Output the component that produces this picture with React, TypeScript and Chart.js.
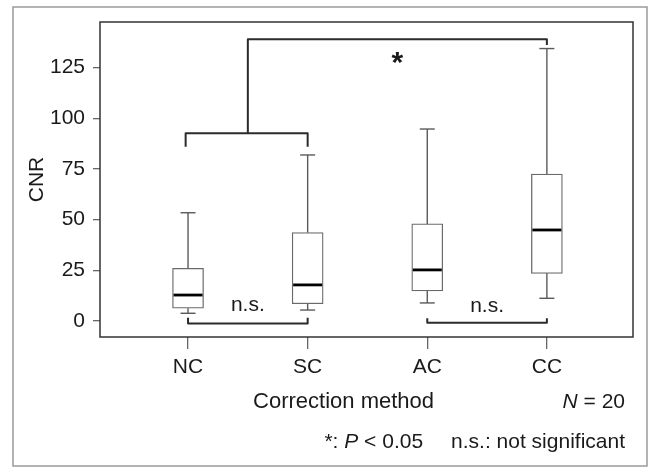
import React, { useEffect, useRef } from "react";
import { Chart, registerables } from "chart.js";
Chart.register(...registerables);

const FONT = "'Liberation Sans', Arial, Helvetica, sans-serif";

// ---- data ----
const categories = ["NC", "SC", "AC", "CC"];
const whiskerLow = [3.8, 5.4, 8.9, 11.2];
const q1 = [6.3, 8.5, 14.8, 23.5];
const medians = [12.8, 17.8, 25.2, 44.9];
const q3 = [26.0, 43.6, 47.9, 72.5];
const whiskerHigh = [53.4, 81.9, 94.7, 134.4];
const yTicks = [0, 25, 50, 75, 100, 125];
const xTitle = "Correction method";
const yTitle = "CNR";

// significance brackets, as polylines in (category, CNR) value space
const brackets: [number, number][][] = [
  [[1, 1.6], [1, -1.2], [2, -1.2], [2, 1.6]],
  [[3, 1.4], [3, -0.9], [4, -0.9], [4, 1.4]],
  [[0.98, 86], [0.98, 92.6], [2, 92.6], [2, 86]],
  [[1.5, 92.6], [1.5, 139], [4, 139], [4, 136.2]],
];
const bracketLabelX = [1.5, 3.5, 2.75];
const bracketLabelY = [7.8, 7.2, 130];
const bracketLabelText = ["n.s.", "n.s.", "*"];

const TEXT = "#1a1a1a";

const extras = {
  id: "boxExtras",
  afterDatasetsDraw(chart: any) {
    const { ctx, scales } = chart;
    const xs = scales.x;
    const ys = scales.y;
    const boxHalf = 15.5;
    const capHalf = 7.5;
    ctx.save();
    // whiskers + caps
    ctx.strokeStyle = "#5a5a5a";
    ctx.lineWidth = 1.4;
    categories.forEach((_, i) => {
      const px = xs.getPixelForValue(i + 1);
      const segs: [number, number][] = [
        [whiskerLow[i], q1[i]],
        [q3[i], whiskerHigh[i]],
      ];
      segs.forEach(([a, b]) => {
        ctx.beginPath();
        ctx.moveTo(px, ys.getPixelForValue(a));
        ctx.lineTo(px, ys.getPixelForValue(b));
        ctx.stroke();
      });
      [whiskerLow[i], whiskerHigh[i]].forEach((v) => {
        const py = ys.getPixelForValue(v);
        ctx.beginPath();
        ctx.moveTo(px - capHalf, py);
        ctx.lineTo(px + capHalf, py);
        ctx.stroke();
      });
    });
    // medians
    ctx.strokeStyle = "#000";
    ctx.lineWidth = 2.8;
    categories.forEach((_, i) => {
      const px = xs.getPixelForValue(i + 1);
      const py = ys.getPixelForValue(medians[i]);
      ctx.beginPath();
      ctx.moveTo(px - boxHalf + 1, py);
      ctx.lineTo(px + boxHalf - 1, py);
      ctx.stroke();
    });
    // brackets
    ctx.strokeStyle = "#2b2b2b";
    ctx.lineWidth = 2;
    ctx.lineJoin = "round";
    brackets.forEach((pts) => {
      ctx.beginPath();
      pts.forEach(([vx, vy], k) => {
        const X = xs.getPixelForValue(vx);
        const Y = ys.getPixelForValue(vy);
        if (k === 0) ctx.moveTo(X, Y);
        else ctx.lineTo(X, Y);
      });
      ctx.stroke();
    });
    // bracket labels
    ctx.fillStyle = TEXT;
    ctx.textAlign = "center";
    ctx.textBaseline = "middle";
    bracketLabelText.forEach((t, i) => {
      ctx.font = t === "*" ? `bold 30px ${FONT}` : `21px ${FONT}`;
      const X = xs.getPixelForValue(bracketLabelX[i]);
      const Y = ys.getPixelForValue(bracketLabelY[i]) + (t === "*" ? 6 : 0);
      ctx.fillText(t, X, Y);
    });
    ctx.restore();
  },
  afterDraw(chart: any) {
    const { ctx, chartArea, scales } = chart;
    ctx.save();
    // plot frame
    ctx.strokeStyle = "#333";
    ctx.lineWidth = 1.5;
    ctx.strokeRect(chartArea.left, chartArea.top, chartArea.right - chartArea.left, chartArea.bottom - chartArea.top);
    // outer figure border
    ctx.strokeStyle = "#9a9a9a";
    ctx.lineWidth = 1.5;
    ctx.strokeRect(13, 7, chart.width - 16, chart.height - 9);
    // annotations
    ctx.fillStyle = TEXT;
    ctx.textBaseline = "middle";
    const y1 = chartArea.bottom + 65;
    const y2 = chartArea.bottom + 105;
    // x axis title (placed left of centre, as in the figure)
    ctx.textAlign = "center";
    ctx.font = `22px ${FONT}`;
    ctx.fillText(xTitle, scales.x.getPixelForValue(2.3), y1);
    ctx.textAlign = "left";
    const right = chartArea.right - 8;
    const norm = `21px ${FONT}`;
    const ital = `italic 21px ${FONT}`;
    const drawRuns = (runs: [string, string][], endX: number, y: number) => {
      let total = 0;
      runs.forEach(([t, f]) => {
        ctx.font = f;
        total += ctx.measureText(t).width;
      });
      let x = endX - total;
      runs.forEach(([t, f]) => {
        ctx.font = f;
        ctx.fillText(t, x, y);
        x += ctx.measureText(t).width;
      });
      return endX - total;
    };
    drawRuns([["N", ital], [" = 20", norm]], right, y1);
    const start = drawRuns([["n.s.: not significant", norm]], right, y2);
    drawRuns([["*: ", norm], ["P", ital], [" < 0.05", norm]], start - 28, y2);
    ctx.restore();
  },
};

export default function App() {
  const ref = useRef<HTMLCanvasElement | null>(null);
  useEffect(() => {
    if (!ref.current) return;
    const chart = new Chart(ref.current, {
      type: "bar",
      data: {
        datasets: [
          {
            data: categories.map((_, i) => ({ x: i + 1, y: [q1[i], q3[i]] })) as any,
            backgroundColor: "#ffffff",
            borderColor: "#6a6a6a",
            borderWidth: 1.3,
            borderSkipped: false,
            barThickness: 31,
          },
        ],
      },
      options: {
        animation: false,
        responsive: false,
        devicePixelRatio: 1,
        layout: { padding: { left: 0, top: 22, right: 17, bottom: 51 } },
        plugins: { legend: { display: false }, tooltip: { enabled: false } },
        scales: {
          x: {
            type: "linear",
            min: 0.264,
            max: 4.72,
            offset: false,
            afterBuildTicks: (s: any) => {
              s.ticks = categories.map((_, i) => ({ value: i + 1 }));
            },
            afterFit: (s: any) => {
              s.height = 80;
            },
            ticks: {
              callback: (v: any) => categories[Math.round(v) - 1] ?? "",
              font: { size: 21, family: FONT },
              color: TEXT,
              padding: 6,
              maxRotation: 0,
              autoSkip: false,
            },
            grid: { offset: false, drawOnChartArea: false, drawTicks: true, tickLength: 12, color: "#666", lineWidth: 1.3 },
            border: { display: false },
            title: { display: false },
          },
          y: {
            type: "linear",
            min: -7.9,
            max: 147.5,
            afterBuildTicks: (s: any) => {
              s.ticks = yTicks.map((v) => ({ value: v }));
            },
            afterFit: (s: any) => {
              s.width = 100;
            },
            ticks: {
              font: { size: 21, family: FONT },
              color: TEXT,
              padding: 8,
            },
            grid: { drawOnChartArea: false, drawTicks: true, tickLength: 7, color: "#666", lineWidth: 1.3 },
            border: { display: false },
            title: {
              display: true,
              text: yTitle,
              font: { size: 21, family: FONT },
              color: TEXT,
              padding: { top: 25, bottom: 0 },
            },
          },
        },
      },
      plugins: [extras],
    });
    return () => chart.destroy();
  }, []);
  return (
    <div style={{ position: "fixed", left: 0, top: 0, width: 650, height: 468, background: "#fff" }}>
      <canvas ref={ref} width={650} height={468} style={{ display: "block" }} />
    </div>
  );
}
